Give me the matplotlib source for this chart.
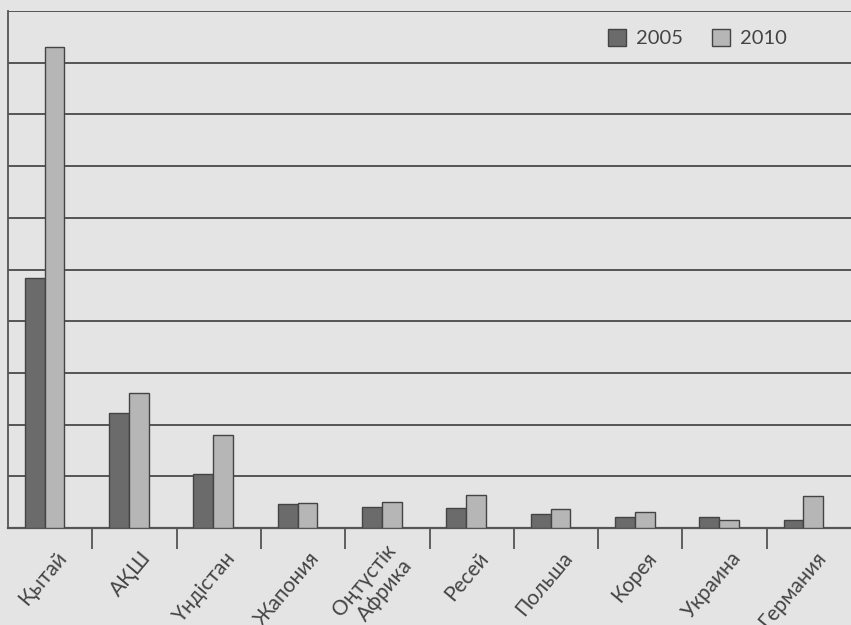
import numpy as np
from matplotlib import pyplot as plt

# категориялар мен мәндер (тор бірлігімен, суреттен оқылған)
countries = ["Қытай", "АҚШ", "Үндістан", "Жапония", "Оңтүстік\nАфрика",
             "Ресей", "Польша", "Корея", "Украина", "Германия"]
vals_2005 = [4.84, 2.22, 1.04, 0.46, 0.41, 0.39, 0.27, 0.21, 0.21, 0.15]
vals_2010 = [9.30, 2.61, 1.80, 0.48, 0.50, 0.64, 0.37, 0.31, 0.15, 0.62]
years = ["2005", "2010"]

plt.rcParams['font.family'] = ['Lato', 'DejaVu Sans']

bg = "#e4e4e4"
fig = plt.figure(figsize=(8.51, 6.25), dpi=100, facecolor=bg)
ax = fig.add_axes([8 / 851, 1 - 528 / 625, 849 / 851, 517 / 625])
ax.set_facecolor(bg)

x = np.arange(len(countries))
w = 0.235
shift = -0.065  # топ категория ортасынан сәл солға
ax.bar(x + shift - w / 2, vals_2005, w, color="#6b6b6b", edgecolor="#444444",
       linewidth=1.0, label=years[0], zorder=3)
ax.bar(x + shift + w / 2, vals_2010, w, color="#b6b6b6", edgecolor="#444444",
       linewidth=1.0, label=years[1], zorder=3)

ax.set_xlim(-0.5, len(countries) - 0.43)
ax.set_ylim(0, 10)
ax.set_yticks(range(0, 11))
ax.yaxis.grid(True, color="#555555", linewidth=1.4)
ax.tick_params(axis='y', length=0, labelleft=False)

# шекара белгілері
ax.set_xticks(x[:-1] + 0.5, minor=True)
ax.tick_params(axis='x', which='minor', length=15, width=1.3, color="#555555")
ax.set_xticks(x + shift + 0.22)
ax.set_xticklabels(countries, rotation=50, ha='right', va='center',
                   rotation_mode='anchor', fontsize=15, color="#444444",
                   multialignment='right', linespacing=1.15)
ax.tick_params(axis='x', which='major', length=0, pad=19)

for s in ['top', 'right']:
    ax.spines[s].set_visible(False)
ax.spines['left'].set_color("#555555")
ax.spines['left'].set_linewidth(1.3)
ax.spines['bottom'].set_color("#555555")
ax.spines['bottom'].set_linewidth(1.6)

ax.legend(loc='upper left', bbox_to_anchor=(590 / 851, 1 - 11 / 625),
          bbox_transform=fig.transFigure, ncol=2, frameon=False, fontsize=14.5,
          handlelength=0.9, handleheight=0.9, handletextpad=0.5,
          columnspacing=1.4, labelcolor="#444444")

plt.savefig("out.png", dpi=100, facecolor=bg)
